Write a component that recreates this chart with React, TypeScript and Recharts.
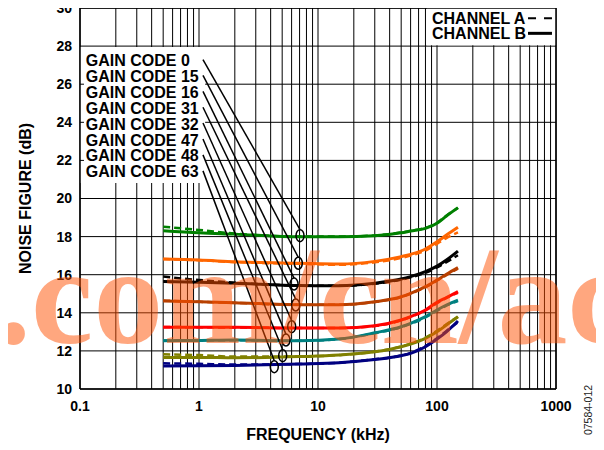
import React from 'react';
import {
  LineChart,
  Line,
  XAxis,
  YAxis,
  CartesianGrid,
  ReferenceArea,
  ReferenceLine,
  ReferenceDot,
} from 'recharts';

// Frequencies (kHz) where curve values were read
const freqs = [0.5, 1, 2, 7, 15, 30, 50, 60, 80, 100, 120, 150];

// Channel B (solid) and Channel A (dashed) noise figure (dB) per gain code
const code0B = [18.31, 18.2, 18.13, 17.99, 17.99, 18.05, 18.2, 18.29, 18.43, 18.7, 19.08, 19.52];
const code0A = [18.52, 18.35, 18.16, 18.0, 18.0, 18.06, 18.22, 18.3, 18.46, 18.73, 19.1, 19.5];
const code15B = [16.82, 16.77, 16.68, 16.6, 16.56, 16.7, 16.95, 17.07, 17.35, 17.73, 18.08, 18.49];
const code15A = [16.82, 16.76, 16.66, 16.57, 16.52, 16.65, 16.88, 17.0, 17.27, 17.62, 17.92, 18.22];
const code16B = [15.64, 15.6, 15.55, 15.43, 15.42, 15.55, 15.77, 15.9, 16.16, 16.45, 16.77, 17.24];
const code16A = [15.9, 15.72, 15.58, 15.43, 15.42, 15.53, 15.74, 15.86, 16.1, 16.38, 16.66, 17.02];
const code31B = [14.62, 14.58, 14.53, 14.42, 14.42, 14.58, 14.84, 15.02, 15.37, 15.72, 16.02, 16.37];
const code31A = [14.64, 14.58, 14.52, 14.42, 14.42, 14.57, 14.82, 15.0, 15.34, 15.68, 15.98, 16.32];
const code32B = [13.24, 13.24, 13.24, 13.2, 13.2, 13.32, 13.62, 13.8, 14.15, 14.55, 14.8, 15.11];
const code32A = [13.26, 13.24, 13.23, 13.2, 13.2, 13.31, 13.6, 13.78, 14.12, 14.5, 14.78, 15.05];
const code47B = [12.53, 12.55, 12.57, 12.53, 12.62, 12.95, 13.27, 13.45, 13.8, 14.15, 14.41, 14.67];
const code47A = [12.55, 12.55, 12.56, 12.53, 12.62, 12.93, 13.25, 13.42, 13.76, 14.1, 14.38, 14.62];
const code48B = [11.66, 11.66, 11.64, 11.7, 11.78, 11.95, 12.22, 12.36, 12.66, 13.0, 13.36, 13.8];
const code48A = [11.82, 11.78, 11.7, 11.7, 11.78, 11.96, 12.23, 12.38, 12.7, 13.05, 13.4, 13.78];
const code63B = [11.21, 11.22, 11.24, 11.31, 11.38, 11.55, 11.75, 11.87, 12.22, 12.62, 13.0, 13.57];
const code63A = [11.35, 11.32, 11.28, 11.31, 11.38, 11.56, 11.76, 11.9, 12.26, 12.66, 13.05, 13.5];

const gainLabels = ['GAIN CODE 0', 'GAIN CODE 15', 'GAIN CODE 16', 'GAIN CODE 31', 'GAIN CODE 32', 'GAIN CODE 47', 'GAIN CODE 48', 'GAIN CODE 63'];
const seriesColors = ['#008000', '#FF6600', '#000000', '#B84000', '#FF0000', '#008080', '#808000', '#000080'];
const seriesB = [code0B, code15B, code16B, code31B, code32B, code47B, code48B, code63B];
const seriesA = [code0A, code15A, code16A, code31A, code32A, code47A, code48A, code63A];

// Annotation anchors (data coordinates)
const labelX = 0.112;
const labelY = [27.24, 26.41, 25.57, 24.74, 23.91, 23.07, 22.24, 21.4];
const leaderStartX = 1.08;
const circleX = [7.06, 6.83, 6.29, 6.5, 6.01, 5.38, 5.05, 4.29];
const circleY = [18.05, 16.6, 15.51, 14.41, 13.27, 12.57, 11.75, 11.17];
const circleTopOffset = 0.31;

// Axis ticks
const xGridTicks = [
  0.1, 0.2, 0.3, 0.4, 0.5, 0.6, 0.7, 0.8, 0.9,
  1, 2, 3, 4, 5, 6, 7, 8, 9,
  10, 20, 30, 40, 50, 60, 70, 80, 90,
  100, 200, 300, 400, 500, 600, 700, 800, 900,
  1000,
];
const xLabelTicks = [0.1, 1, 10, 100, 1000];
const yTicks = [10, 12, 14, 16, 18, 20, 22, 24, 26, 28, 30];
const innerTickY = [22, 24, 26];

// Box / legend anchors
const labelBox = { x1: 0.1, x2: 1.126, y1: 20.81, y2: 27.95 };
const legendBox = { x1: 82.4, x2: 1000, y1: 28.05, y2: 30 };
const legendTextX = 90.8;
const legendRowY = [29.46, 28.67];
const legendSampleX = [582, 925];

const data = freqs.map((f, i) => {
  const row: Record<string, number> = { f };
  seriesB.forEach((s, k) => {
    row['b' + k] = s[i];
  });
  seriesA.forEach((s, k) => {
    row['a' + k] = s[i];
  });
  return row;
});

const FONT = 'Liberation Sans, Arial, sans-serif';

const YLabel = (props: any) => {
  const vb = props.viewBox || { x: 0, y: 8, width: 80, height: 381 };
  const cx = vb.x + 25;
  const cy = vb.y + vb.height / 2;
  return (
    <text
      x={cx}
      y={cy}
      transform={`rotate(-90, ${cx}, ${cy})`}
      textAnchor="middle"
      dominantBaseline="central"
      fontFamily={FONT}
      fontWeight="bold"
      fontSize={16}
      fill="#000"
    >
      NOISE FIGURE (dB)
    </text>
  );
};

export default function App() {
  return (
    <div style={{ position: 'relative', width: 604, height: 450, marginLeft: -8, marginTop: -8, overflow: 'hidden', background: '#fff' }}>
      <LineChart width={604} height={450} data={data} margin={{ top: 8, right: 48, bottom: 0, left: 0 }}>
        <CartesianGrid stroke="#000" strokeWidth={1} />
        <XAxis
          dataKey="f"
          type="number"
          scale="log"
          domain={[0.1, 1000]}
          ticks={xGridTicks}
          interval={0}
          allowDataOverflow
          tickFormatter={(v: number) => (xLabelTicks.includes(v) ? String(v) : '')}
          tickLine={false}
          axisLine={false}
          tickMargin={6}
          height={61}
          tick={{ fill: '#000', fontSize: 14, fontWeight: 'bold', fontFamily: FONT }}
          label={{ value: 'FREQUENCY (kHz)', position: 'insideBottom', offset: 10, fill: '#000', fontSize: 16, fontWeight: 'bold', fontFamily: FONT }}
        />
        <YAxis
          type="number"
          domain={[10, 30]}
          ticks={yTicks}
          interval={0}
          allowDataOverflow
          tickLine={false}
          axisLine={false}
          width={80}
          tick={{ fill: '#000', fontSize: 14, fontWeight: 'bold', fontFamily: FONT }}
          label={{ content: <YLabel /> }}
        />

        <ReferenceArea x1={labelBox.x1} x2={labelBox.x2} y1={labelBox.y1} y2={labelBox.y2} fill="#fff" fillOpacity={1} stroke="none" ifOverflow="visible" />
        <ReferenceArea x1={legendBox.x1} x2={legendBox.x2} y1={legendBox.y1} y2={legendBox.y2} fill="#fff" fillOpacity={1} stroke="none" ifOverflow="visible" />

        {seriesB.map((_, k) => (
          <Line
            key={'b' + k}
            dataKey={'b' + k}
            type="monotone"
            stroke={seriesColors[k]}
            strokeWidth={3}
            dot={false}
            activeDot={false}
            isAnimationActive={false}
          />
        ))}
        {seriesA.map((_, k) => (
          <Line
            key={'a' + k}
            dataKey={'a' + k}
            type="monotone"
            stroke={seriesColors[k]}
            strokeWidth={2.5}
            strokeDasharray="7 4"
            dot={false}
            activeDot={false}
            isAnimationActive={false}
          />
        ))}

        {innerTickY.map((y) => (
          <ReferenceLine key={'it' + y} segment={[{ x: 0.1, y }, { x: 0.108, y }]} stroke="#000" strokeWidth={1} />
        ))}

        {circleX.map((cxv, i) => (
          <ReferenceLine
            key={'ld' + i}
            segment={[
              { x: leaderStartX, y: labelY[i] + 0.05 },
              { x: cxv, y: circleY[i] + circleTopOffset },
            ]}
            stroke="#000"
            strokeWidth={1.5}
          />
        ))}
        {circleX.map((cxv, i) => (
          <ReferenceDot
            key={'cd' + i}
            x={cxv}
            y={circleY[i]}
            r={5}
            shape={(p: any) => <ellipse cx={p.cx} cy={p.cy} rx={4} ry={6} fill="none" stroke="#000" strokeWidth={1.5} />}
          />
        ))}
        {gainLabels.map((t, i) => (
          <ReferenceDot
            key={'gl' + i}
            x={labelX}
            y={labelY[i]}
            r={1}
            shape={(p: any) => (
              <text x={p.cx} y={p.cy} textAnchor="start" dominantBaseline="central" fontFamily={FONT} fontWeight="bold" fontSize={16} fill="#000">
                {t}
              </text>
            )}
          />
        ))}

        {['CHANNEL A', 'CHANNEL B'].map((t, i) => (
          <ReferenceDot
            key={'lg' + i}
            x={legendTextX}
            y={legendRowY[i]}
            r={1}
            shape={(p: any) => (
              <text x={p.cx} y={p.cy} textAnchor="start" dominantBaseline="central" fontFamily={FONT} fontWeight="bold" fontSize={16} fill="#000">
                {t}
              </text>
            )}
          />
        ))}
        <ReferenceLine segment={[{ x: legendSampleX[0], y: legendRowY[0] }, { x: legendSampleX[1], y: legendRowY[0] }]} stroke="#000" strokeWidth={2} strokeDasharray="8 8" />
        <ReferenceLine segment={[{ x: legendSampleX[0], y: legendRowY[1] }, { x: legendSampleX[1], y: legendRowY[1] }]} stroke="#000" strokeWidth={3} />

        <ReferenceLine x={0.1} stroke="#000" strokeWidth={1.5} />
        <ReferenceLine x={1000} stroke="#000" strokeWidth={1.5} />
        <ReferenceLine y={10} stroke="#000" strokeWidth={1.5} />
        <ReferenceLine y={30} stroke="#000" strokeWidth={1.5} />
      </LineChart>
      <svg width={604} height={450} style={{ position: 'absolute', left: 0, top: 0, pointerEvents: 'none' }}>
        <text
          x={588}
          y={410}
          transform="rotate(-90, 588, 410)"
          textAnchor="middle"
          dominantBaseline="central"
          fontFamily={FONT}
          fontSize={10.5}
          fill="#222"
        >
          07584-012
        </text>
        <text x={-4} y={343} fontFamily="Liberation Serif, Times New Roman, serif" fontWeight="bold" fontSize={140} fill="#FF5000" fillOpacity={0.5}>
          .com/cn/ac
        </text>
      </svg>
    </div>
  );
}
